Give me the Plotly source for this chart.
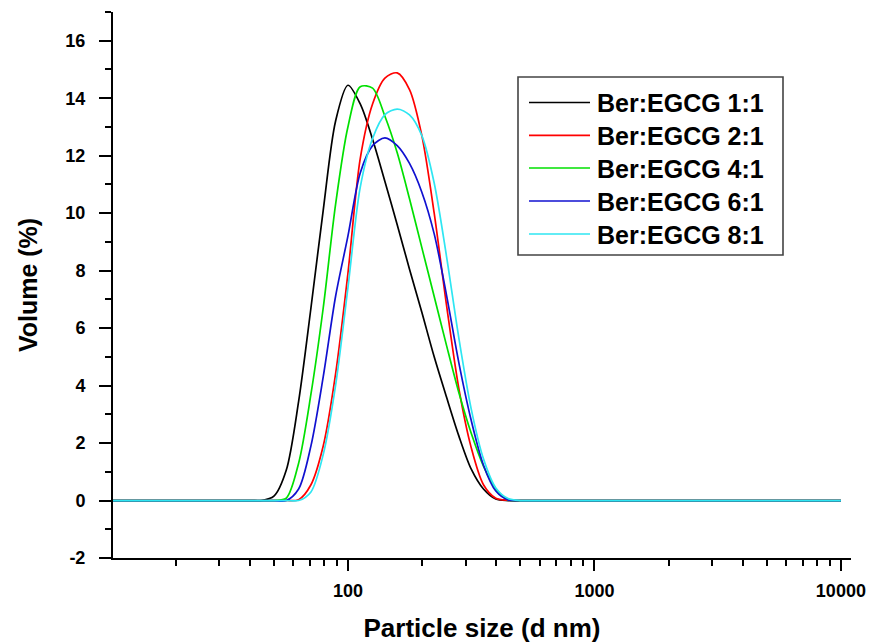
import plotly.graph_objects as go

# Particle size bins (d nm)
sizes = [10.1, 39.8, 44.7, 50.1, 56.2, 63.1, 70.8, 79.4, 89.1, 100.0, 112.2, 125.9,
         141.3, 158.5, 177.8, 199.5, 223.9, 251.2, 281.8, 316.2, 354.8, 398.1,
         446.7, 501.2, 562.3, 10000.0]

# Volume (%) per sample
vol_1_1 = [0, 0, 0, 0.15, 1.05, 3.45, 6.7, 10.1, 13.2, 14.45, 13.8, 12.57, 11.1,
           9.6, 8.05, 6.55, 5.0, 3.6, 2.25, 1.1, 0.4, 0.05, 0, 0, 0, 0]
vol_2_1 = [0, 0, 0, 0, 0, 0.03, 0.55, 1.9, 4.4, 7.9, 11.9, 13.8, 14.7, 14.88,
           14.3, 12.7, 10.0, 6.8, 3.9, 1.85, 0.55, 0.08, 0.01, 0, 0, 0]
vol_4_1 = [0, 0, 0, 0, 0.08, 1.3, 3.7, 6.7, 10.3, 13.0, 14.4, 14.35, 13.37, 12.1,
           10.5, 8.8, 7.1, 5.4, 3.76, 2.35, 1.2, 0.4, 0.02, 0, 0, 0]
vol_6_1 = [0, 0, 0, 0, 0, 0.4, 1.9, 4.3, 7.1, 9.2, 11.4, 12.35, 12.62, 12.35,
           11.73, 10.73, 9.28, 7.15, 4.8, 2.8, 1.23, 0.33, 0.02, 0, 0, 0]
vol_8_1 = [0, 0, 0, 0, 0, 0, 0.3, 1.6, 4.0, 7.4, 10.9, 12.6, 13.43, 13.62, 13.42,
           12.7, 11.05, 8.5, 5.66, 3.2, 1.45, 0.44, 0.07, 0, 0, 0]

series_names = ["Ber:EGCG 1:1", "Ber:EGCG 2:1", "Ber:EGCG 4:1", "Ber:EGCG 6:1", "Ber:EGCG 8:1"]
series_values = [vol_1_1, vol_2_1, vol_4_1, vol_6_1, vol_8_1]
series_colors = ["#000000", "#ff0000", "#00e000", "#1010d0", "#2ee6f2"]

y_ticks = [-2, 0, 2, 4, 6, 8, 10, 12, 14, 16]
y_minor = [-1, 1, 3, 5, 7, 9, 11, 13, 15, 17]
x_ticks = [100, 1000, 10000]
x_minor = [20, 30, 40, 50, 60, 70, 80, 90, 200, 300, 400, 500, 600, 700, 800, 900,
           2000, 3000, 4000, 5000, 6000, 7000, 8000, 9000]

FONT = "Liberation Sans, Arial, sans-serif"

fig = go.Figure()
for name, vals, col in zip(series_names, series_values, series_colors):
    fig.add_trace(go.Scatter(x=sizes, y=vals, mode="lines", name=name,
                             line=dict(color=col, width=1.7, shape="spline", smoothing=0.85),
                             showlegend=False))

# plot area in pixels
L, R, T, B = 113, 851, 12, 558
W, H = 872, 643


def px_x(p):
    return (p - L) / (R - L)


def px_y(p):
    return (B - p) / (B - T)


shapes = [dict(type="rect", xref="paper", yref="paper",
               x0=px_x(518), x1=px_x(783), y0=px_y(255), y1=px_y(77),
               line=dict(color="#444444", width=1.6), fillcolor="rgba(0,0,0,0)")]
annotations = []
row_y = [102.5, 135.3, 168, 201, 234]
for name, col, ry in zip(series_names, series_colors, row_y):
    shapes.append(dict(type="line", xref="paper", yref="paper",
                       x0=px_x(529), x1=px_x(590), y0=px_y(ry), y1=px_y(ry),
                       line=dict(color=col, width=1.7)))
    annotations.append(dict(xref="paper", yref="paper", x=px_x(595), y=px_y(ry + 1),
                            xanchor="left", yanchor="middle", showarrow=False,
                            text=name, font=dict(family=FONT, size=25, color="black",
                                                 weight="bold")))

fig.update_layout(
    width=W, height=H,
    margin=dict(l=L, r=W - R, t=T, b=H - B, autoexpand=False),
    paper_bgcolor="white", plot_bgcolor="white",
    shapes=shapes, annotations=annotations,
    showlegend=False,
)

fig.update_xaxes(
    type="log", range=[1.047, 4.041],
    showgrid=False, zeroline=False,
    showline=True, linecolor="black", linewidth=2, mirror=False,
    ticks="outside", ticklen=11, tickwidth=2, tickcolor="black",
    tickmode="array", tickvals=x_ticks, ticktext=[str(v) for v in x_ticks],
    minor=dict(ticks="outside", ticklen=6, tickwidth=2, tickcolor="black",
               tickmode="array", tickvals=x_minor, showgrid=False),
    tickfont=dict(family=FONT, size=18, color="black", weight="bold"),
    ticklabelstandoff=4,
    title=dict(text="Particle size (d nm)", standoff=20,
               font=dict(family=FONT, size=26, color="black", weight="bold")),
    automargin=False,
)
fig.update_yaxes(
    range=[-2, 17],
    showgrid=False, zeroline=False,
    showline=True, linecolor="black", linewidth=2, mirror=False,
    ticks="outside", ticklen=12, tickwidth=2, tickcolor="black",
    tickmode="array", tickvals=y_ticks, ticktext=[str(v) for v in y_ticks],
    minor=dict(ticks="outside", ticklen=6, tickwidth=2, tickcolor="black",
               tickmode="array", tickvals=y_minor, showgrid=False),
    tickfont=dict(family=FONT, size=18, color="black", weight="bold"),
    ticklabelstandoff=10,
    title=dict(text="Volume (%)", standoff=21,
               font=dict(family=FONT, size=25, color="black", weight="bold")),
    automargin=False,
)

fig.write_html("out.html", config={"displayModeBar": False},
               post_script="document.body.style.margin='0px';document.body.style.overflow='hidden';")
